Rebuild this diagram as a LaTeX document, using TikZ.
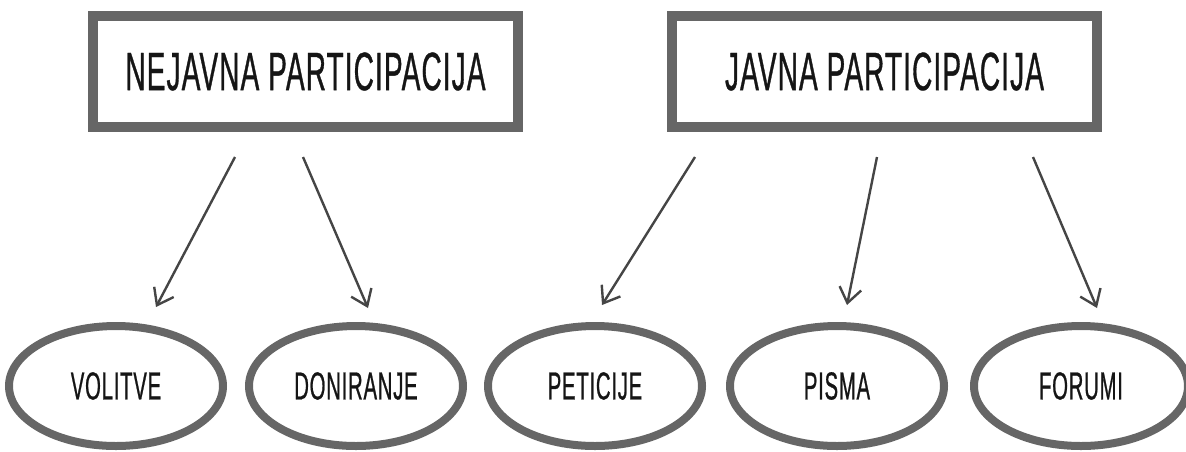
\documentclass[tikz,border=0pt]{standalone}
\usepackage{fontspec}
\setmainfont{Liberation Sans}[FakeStretch=0.52, LetterSpace=2, UprightFeatures={FakeBold=0.6}]
\usepackage{xcolor}
\usetikzlibrary{shapes.geometric, arrows.meta}
\definecolor{rimgray}{HTML}{666666}
\definecolor{arrgray}{HTML}{454545}
\definecolor{txtblack}{HTML}{151515}

\tikzset{
    titlebox/.style={draw=rimgray, line width=10pt, rectangle, minimum width=425pt, minimum height=111pt, inner sep=0pt, text=txtblack, font=\fontsize{54}{60}\selectfont},
    oval/.style={draw=rimgray, line width=8pt, ellipse, minimum width=214pt, minimum height=120pt, inner sep=0pt, text=txtblack, font=\fontsize{39}{46}\selectfont},
    pointer/.style={draw=arrgray, line width=2.4pt, -{Straight Barb[length=15pt, width=22pt]}}
}

\begin{document}
\begin{tikzpicture}[x=1pt, y=-1pt]
    \useasboundingbox (0,0) rectangle (1186,451);
    \node[titlebox] (NP) at (305.5,71.5) {NEJAVNA PARTICIPACIJA};
    \node[titlebox] (JP) at (884.5,71.5) {JAVNA PARTICIPACIJA};
    \node[oval] (vol) at (116,386) {VOLITVE};
    \node[oval] (don) at (356,386) {DONIRANJE};
    \node[oval] (pet) at (595,386) {PETICIJE};
    \node[oval] (pis) at (837,386) {PISMA};
    \node[oval] (for) at (1081,386) {FORUMI};
    \coordinate (s1) at (235,157);
    \coordinate (e1) at (156,307);
    \coordinate (s2) at (303,157);
    \coordinate (e2) at (368,308);
    \coordinate (s3) at (695,157);
    \coordinate (e3) at (602,305);
    \coordinate (s4) at (877,157);
    \coordinate (e4) at (847,305);
    \coordinate (s5) at (1033,157);
    \coordinate (e5) at (1097,308);
    \draw[pointer] (s1) -- (e1);
    \draw[pointer] (s2) -- (e2);
    \draw[pointer] (s3) -- (e3);
    \draw[pointer] (s4) -- (e4);
    \draw[pointer] (s5) -- (e5);
\end{tikzpicture}
\end{document}
